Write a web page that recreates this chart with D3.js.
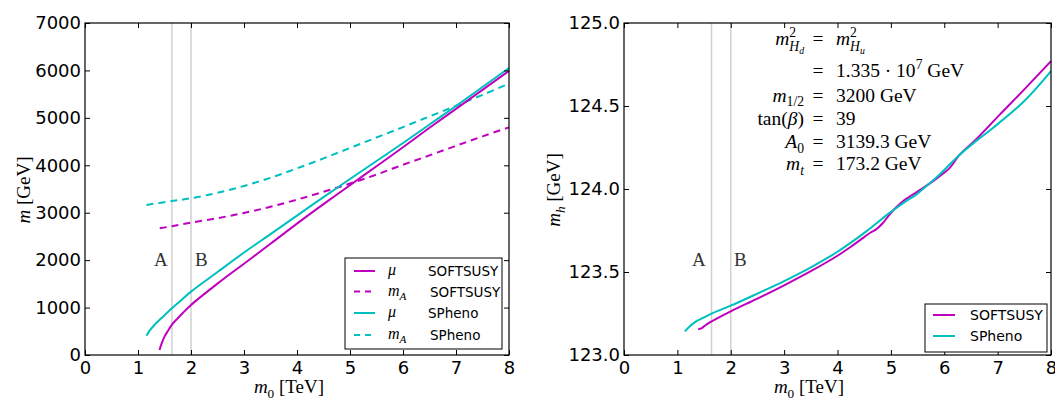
<!DOCTYPE html>
<html><head><meta charset="utf-8">
<script src="https://cdn.jsdelivr.net/npm/d3@7"></script>
<style>body{margin:0;background:#fff}svg{display:block}text{white-space:pre}</style>
</head><body>
<svg id="chart" width="1055" height="401"></svg>
<script>
// ---------- data ----------
const xTicks = [0,1,2,3,4,5,6,7,8];
const yTicksLeft = [0,1000,2000,3000,4000,5000,6000,7000];
const yTicksRight = [123.0,123.5,124.0,124.5,125.0];
const vLines = [1.64, 2.0];
const vLineLabels = ["A","B"];

// left panel: mu and m_A
const muSoftsusyX = [1.406,1.44,1.5,1.56,1.64,1.75,1.85,2.0,2.5,3.0,3.5,4.0,4.5,5.0,5.5,6.0,6.5,7.0,7.5,8.0];
const muSoftsusyY = [105,225,387,500,640,775,890,1055,1505,1925,2345,2770,3180,3580,3980,4380,4790,5190,5590,5990];
const mASoftsusyX = [1.41,1.64,2.0,2.5,3.0,3.5,4.0,4.5,5.0,5.5,6.0,6.5,7.0,7.5,8.0];
const mASoftsusyY = [2672,2715,2790,2885,2995,3125,3275,3440,3615,3805,4010,4210,4410,4610,4800];
const muSphenoX = [1.16,1.22,1.31,1.44,1.64,1.81,2.0,2.5,3.0,3.5,4.0,4.5,5.0,5.5,6.0,6.5,7.0,7.5,8.0];
const muSphenoY = [408,513,633,774,985,1150,1336,1750,2160,2550,2940,3330,3710,4090,4470,4860,5250,5650,6050];
const mASphenoX = [1.16,1.64,2.0,2.5,3.0,3.5,4.0,4.5,5.0,5.5,6.0,6.5,7.0,7.5,8.0];
const mASphenoY = [3165,3245,3305,3420,3565,3735,3935,4145,4365,4585,4805,5030,5255,5485,5720];

// right panel: m_h
const mhSoftsusyX = [1.39,1.45,1.52,1.64,2.0,2.5,3.0,3.5,4.0,4.25,4.5,4.62,4.73,4.85,4.98,5.1,5.26,5.6,5.91,6.1,6.29,6.6,7.04,7.5,8.0];
const mhSoftsusyY = [123.157,123.16,123.178,123.202,123.263,123.34,123.42,123.505,123.598,123.652,123.71,123.738,123.758,123.795,123.848,123.89,123.935,124.005,124.076,124.126,124.207,124.30,124.448,124.60,124.77];
const mhSphenoX = [1.14,1.23,1.35,1.48,1.64,2.0,2.5,3.0,3.5,4.0,4.25,4.54,5.0,5.32,5.45,5.6,5.91,6.29,6.6,6.9,7.5,8.0];
const mhSphenoY = [123.142,123.172,123.202,123.223,123.249,123.297,123.37,123.445,123.528,123.622,123.677,123.745,123.862,123.935,123.96,124.0,124.086,124.207,124.29,124.365,124.53,124.71];

const MAGENTA = "#bf00bf", CYAN = "#00bfbf";
const SANS = "DejaVu Sans, sans-serif";
const SERIF = "Liberation Serif, Times New Roman, serif";

const svg = d3.select("#chart");

function rich(sel, x, y, anchor, fs, parts, rotate) {
  const t = sel.append("text").attr("x", x).attr("y", y)
    .attr("text-anchor", anchor).style("font-family", SERIF)
    .style("font-size", fs + "px").attr("fill", "#000");
  if (rotate) t.attr("transform", `rotate(${rotate},${x},${y})`);
  let cur = 0;
  parts.forEach(p => {
    const off = (p.o || 0) * fs;
    const ts = t.append("tspan").text(p.t).attr("dy", off - cur);
    cur = off;
    if (p.i) ts.style("font-style", "italic");
    if (p.s) ts.style("font-size", (p.s * fs) + "px");
    if (p.dx) ts.attr("dx", p.dx * fs);
  });
  return t;
}

function panel(cfg) {
  const g = svg.append("g");
  const x = d3.scaleLinear().domain([0, 8]).range([cfg.left, cfg.right]);
  const y = d3.scaleLinear().domain(cfg.yDomain).range([cfg.bottom, cfg.top]);
  vLines.forEach(v => {
    g.append("line").attr("x1", x(v)).attr("x2", x(v)).attr("y1", cfg.top).attr("y2", cfg.bottom)
      .attr("stroke", "#d0d0d0").attr("stroke-width", 1.5);
  });
  vLineLabels.forEach((lab, i) => {
    g.append("text").attr("x", cfg.labX[i]).attr("y", cfg.labY).text(lab)
      .style("font-family", SERIF).style("font-size", "19px").attr("fill", "#333");
  });
  cfg.series.forEach(s => {
    const pts = s.x.map((d, i) => [d, s.y[i]]);
    const line = d3.line().x(d => x(d[0])).y(d => y(d[1])).curve(d3.curveCatmullRom.alpha(0.5));
    g.append("path").attr("d", line(pts)).attr("fill", "none").attr("stroke", s.color)
      .attr("stroke-width", 2).attr("stroke-dasharray", s.dash ? "7,5" : null);
  });
  const tk = 5;
  const bx = d3.axisBottom(x).tickValues(xTicks).tickSize(-tk).tickPadding(6).tickFormat(d3.format("d"));
  const tx = d3.axisTop(x).tickValues(xTicks).tickSize(-tk).tickFormat("");
  const ly = d3.axisLeft(y).tickValues(cfg.yTicks).tickSize(-tk).tickPadding(4).tickFormat(cfg.yFmt);
  const ry = d3.axisRight(y).tickValues(cfg.yTicks).tickSize(-tk).tickFormat("");
  const style = a => {
    a.select(".domain").remove();
    a.selectAll("line").attr("stroke", "#000");
    a.selectAll("text").style("font-family", SANS).style("font-size", "18px").attr("fill", "#000");
  };
  g.append("g").attr("transform", `translate(0,${cfg.bottom})`).call(bx).call(style);
  g.append("g").attr("transform", `translate(0,${cfg.top})`).call(tx).call(style);
  g.append("g").attr("transform", `translate(${cfg.left},0)`).call(ly).call(style);
  g.append("g").attr("transform", `translate(${cfg.right},0)`).call(ry).call(style);
  g.append("rect").attr("x", cfg.left).attr("y", cfg.top).attr("width", cfg.right - cfg.left)
    .attr("height", cfg.bottom - cfg.top).attr("fill", "none").attr("stroke", "#000").attr("stroke-width", 1.2);
  return g;
}

panel({
  left: 85, right: 509, top: 23, bottom: 355, yDomain: [0, 7000], yTicks: yTicksLeft,
  yFmt: d3.format("d"), labX: [154, 195], labY: 266,
  series: [
    {x: mASoftsusyX, y: mASoftsusyY, color: MAGENTA, dash: true},
    {x: mASphenoX, y: mASphenoY, color: CYAN, dash: true},
    {x: muSoftsusyX, y: muSoftsusyY, color: MAGENTA},
    {x: muSphenoX, y: muSphenoY, color: CYAN}
  ]
});
panel({
  left: 624, right: 1051, top: 23, bottom: 355, yDomain: [123, 125], yTicks: yTicksRight,
  yFmt: d3.format(".1f"), labX: [692, 734], labY: 266,
  series: [
    {x: mhSoftsusyX, y: mhSoftsusyY, color: MAGENTA},
    {x: mhSphenoX, y: mhSphenoY, color: CYAN}
  ]
});

// axis labels
rich(svg, 289, 393, "middle", 19, [{t: "m", i: 1}, {t: "0", s: 0.7, o: 0.25}, {t: " [TeV]", o: 0}]);
rich(svg, 809, 393, "middle", 19, [{t: "m", i: 1}, {t: "0", s: 0.7, o: 0.25}, {t: " [TeV]", o: 0}]);
rich(svg, 30, 190, "middle", 19, [{t: "m", i: 1}, {t: " [GeV]"}], -90);
rich(svg, 560, 190, "middle", 19, [{t: "m", i: 1}, {t: "h", i: 1, s: 0.7, o: 0.25}, {t: " [GeV]", o: 0}], -90);

// left legend
const legL = svg.append("g");
legL.append("rect").attr("x", 345).attr("y", 258).attr("width", 157).attr("height", 91)
  .attr("fill", "#fff").attr("stroke", "#000").attr("stroke-width", 1);
const legLItems = [
  {c: MAGENTA, dash: false, sym: [{t: "\u03bc", i: 1}], name: "SOFTSUSY", nx: 428},
  {c: MAGENTA, dash: true, sym: [{t: "m", i: 1}, {t: "A", i: 1, s: 0.7, o: 0.25}], name: "SOFTSUSY", nx: 430},
  {c: CYAN, dash: false, sym: [{t: "\u03bc", i: 1}], name: "SPheno", nx: 428},
  {c: CYAN, dash: true, sym: [{t: "m", i: 1}, {t: "A", i: 1, s: 0.7, o: 0.25}], name: "SPheno", nx: 430}
];
const legLRows = [271, 291.5, 313, 335];
legLItems.forEach((it, i) => {
  const cy = legLRows[i];
  legL.append("line").attr("x1", 354).attr("x2", 375).attr("y1", cy).attr("y2", cy)
    .attr("stroke", it.c).attr("stroke-width", 2).attr("stroke-dasharray", it.dash ? "6,5" : null);
  rich(legL, 388, cy + 4, "start", 16, it.sym);
  legL.append("text").attr("x", it.nx).attr("y", cy + 5).text(it.name)
    .style("font-family", SANS).style("font-size", "13.5px").attr("fill", "#000");
});

// right legend
const legR = svg.append("g");
legR.append("rect").attr("x", 925).attr("y", 304).attr("width", 122).attr("height", 48)
  .attr("fill", "#fff").attr("stroke", "#000").attr("stroke-width", 1);
[{c: MAGENTA, n: "SOFTSUSY"}, {c: CYAN, n: "SPheno"}].forEach((it, i) => {
  const cy = [315, 336][i];
  legR.append("line").attr("x1", 933).attr("x2", 955).attr("y1", cy).attr("y2", cy)
    .attr("stroke", it.c).attr("stroke-width", 2);
  legR.append("text").attr("x", 970).attr("y", cy + 5).text(it.n)
    .style("font-family", SANS).style("font-size", "14px").attr("fill", "#000");
});

// parameter annotation
const ann = svg.append("g");
const fs = 19.5;
const rows = [
  {y: 45, l: [{t: "m", i: 1}, {t: "2", s: 0.7, o: -0.42}, {t: "H", i: 1, s: 0.7, o: 0.3, dx: -0.35}, {t: "d", i: 1, s: 0.5, o: 0.45}],
          r: [{t: "m", i: 1}, {t: "2", s: 0.7, o: -0.42}, {t: "H", i: 1, s: 0.7, o: 0.3, dx: -0.35}, {t: "u", i: 1, s: 0.5, o: 0.45}]},
  {y: 76.5, l: null, r: [{t: "1.335 \u00b7 10"}, {t: "7", s: 0.7, o: -0.4}, {t: " GeV", o: 0}]},
  {y: 101.5, l: [{t: "m", i: 1}, {t: "1/2", s: 0.7, o: 0.25}], r: [{t: "3200 GeV"}]},
  {y: 125, l: [{t: "tan("}, {t: "\u03b2", i: 1}, {t: ")"}], r: [{t: "39"}]},
  {y: 148, l: [{t: "A", i: 1}, {t: "0", s: 0.7, o: 0.25}], r: [{t: "3139.3 GeV"}]},
  {y: 170, l: [{t: "m", i: 1}, {t: "t", i: 1, s: 0.7, o: 0.25}], r: [{t: "173.2 GeV"}]}
];
rows.forEach(rw => {
  if (rw.l) rich(ann, 804, rw.y, "end", fs, rw.l);
  ann.append("text").attr("x", 818).attr("y", rw.y).attr("text-anchor", "middle").text("=")
    .style("font-family", SERIF).style("font-size", fs + "px");
  rich(ann, 836, rw.y, "start", fs, rw.r);
});
</script>
</body></html>
